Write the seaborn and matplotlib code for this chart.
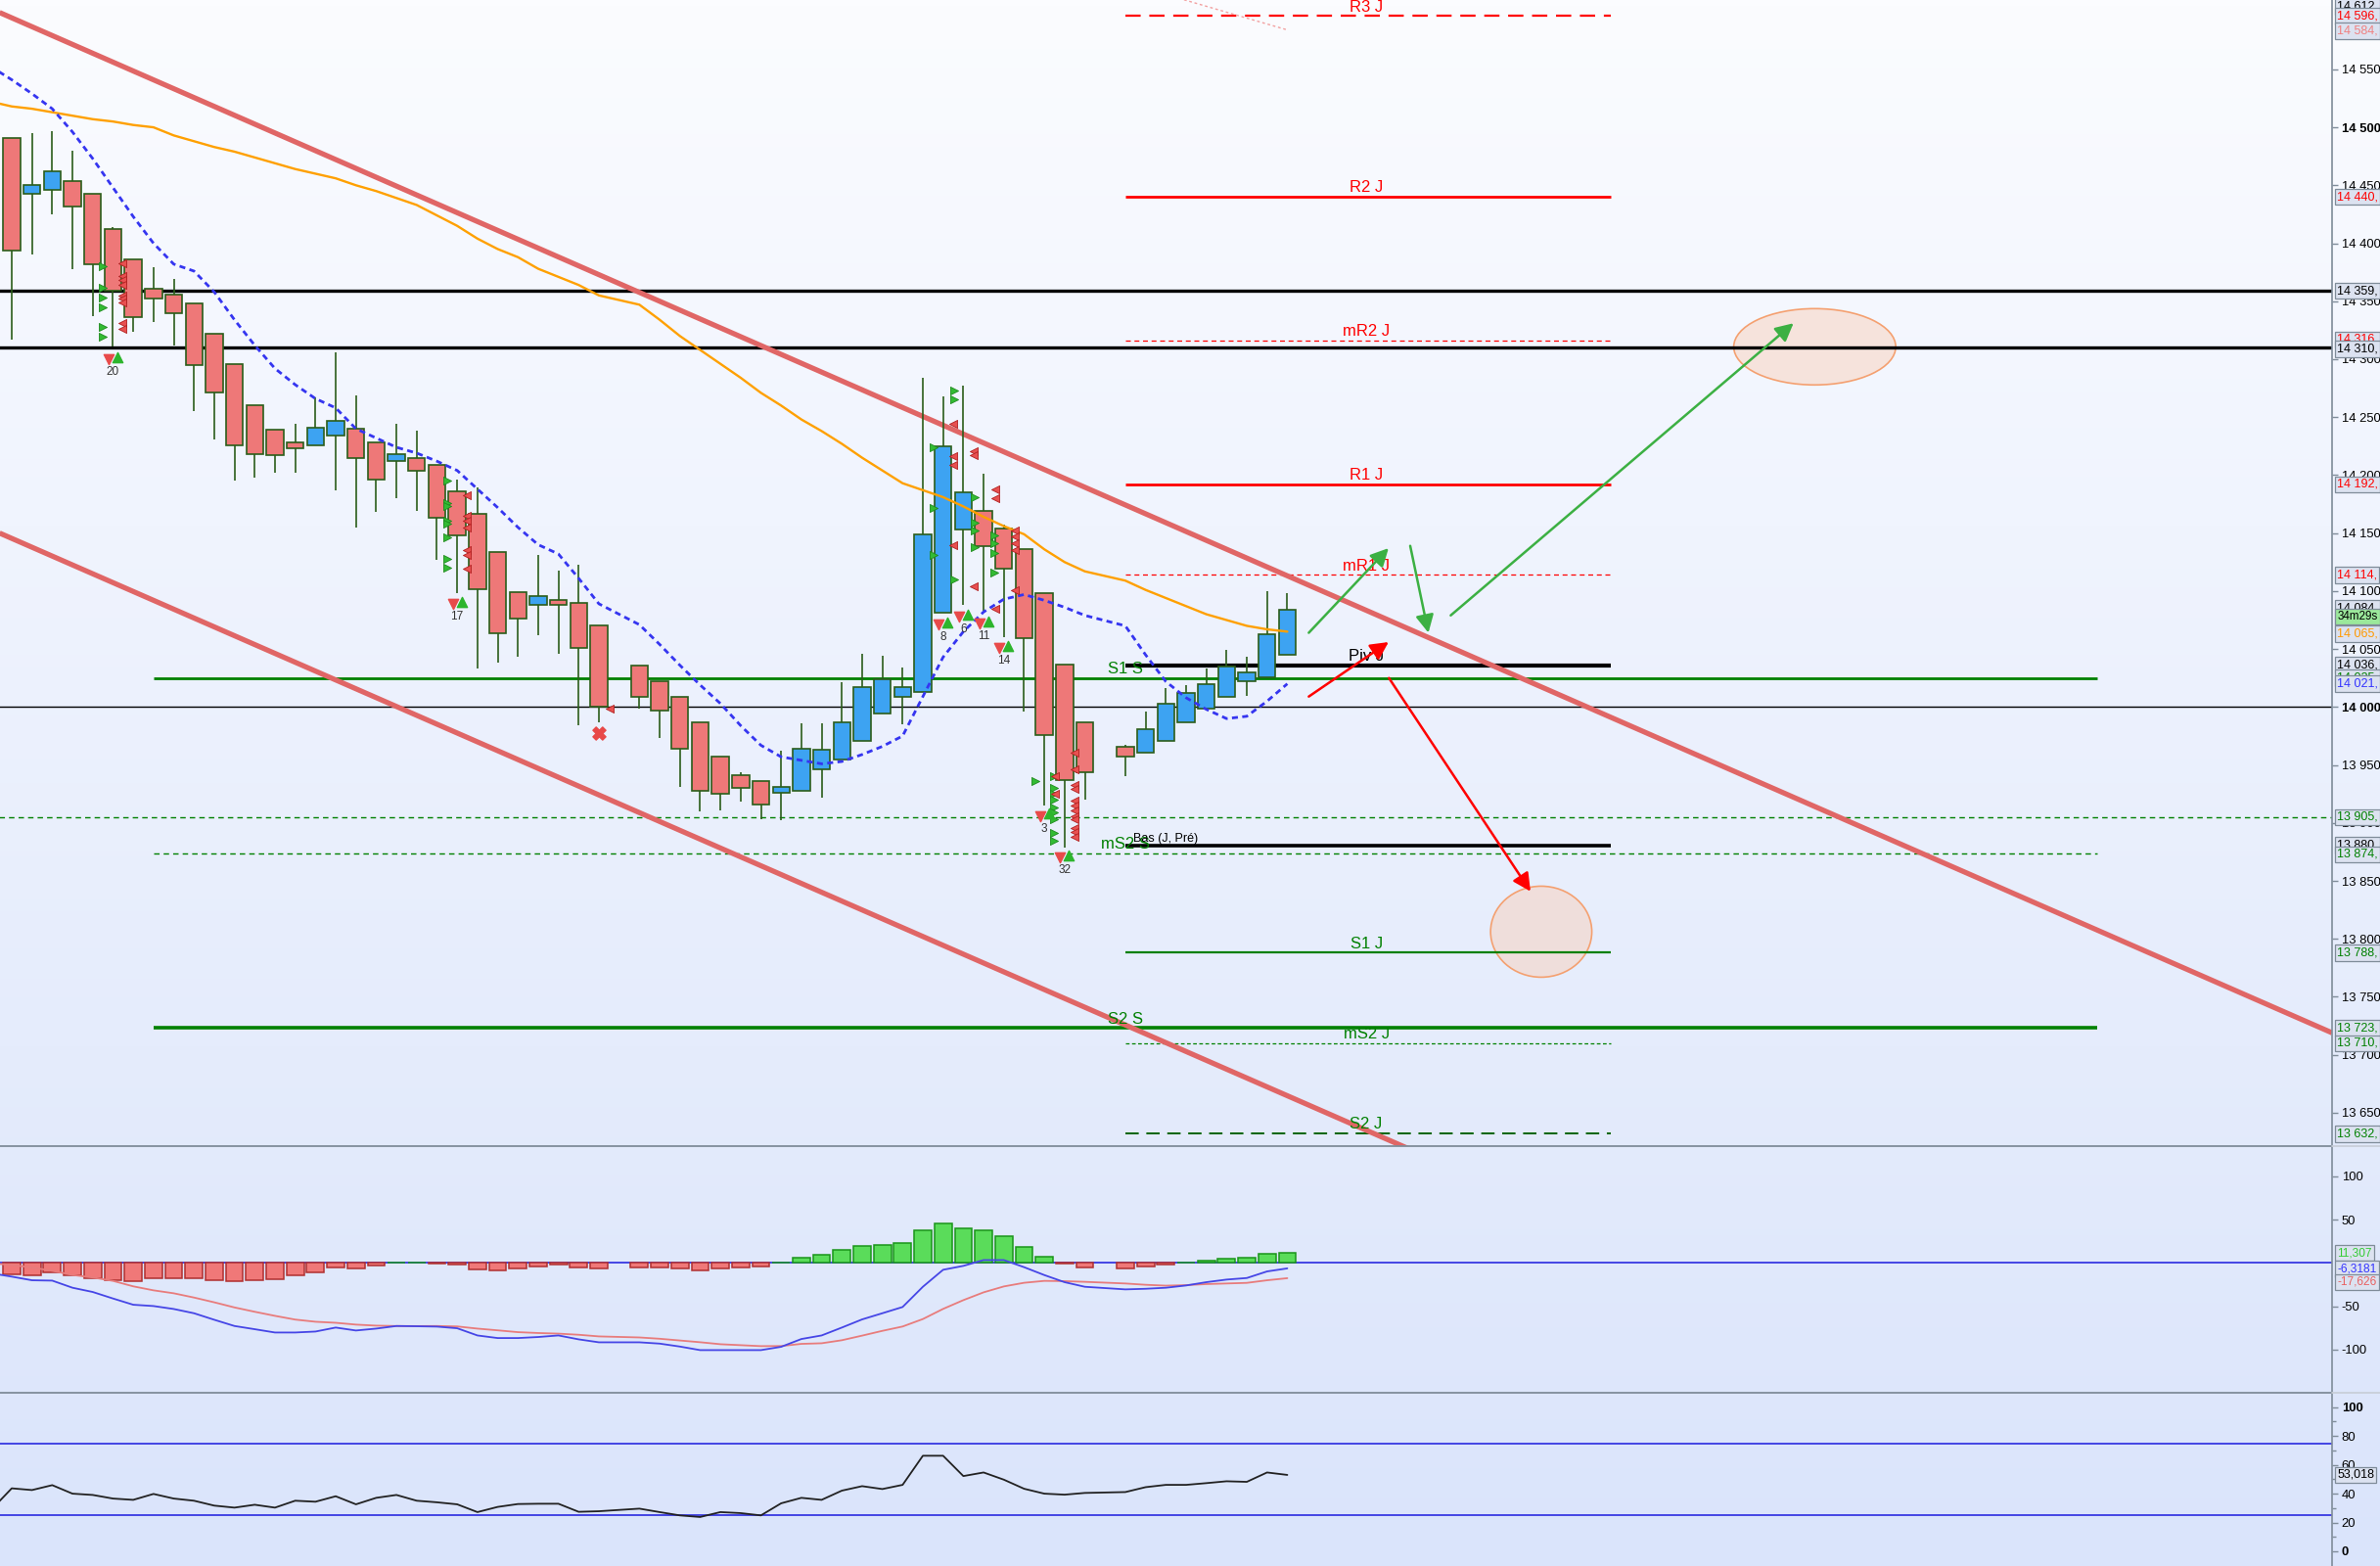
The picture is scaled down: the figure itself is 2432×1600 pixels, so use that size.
import numpy as np
import pandas as pd
import matplotlib
matplotlib.use("Agg")
import matplotlib.pyplot as plt
import matplotlib.transforms as mtrans
from matplotlib.colors import LinearSegmentedColormap
from matplotlib.lines import Line2D
from matplotlib.patches import Ellipse
import seaborn as sns

nan = np.nan

# ---------------- data ----------------
# first entry = bar just left of the visible window (only its indicator values show)
opens = [nan, 14491, 14443, 14446, 14454, 14443, 14412, 14386, 14361, 14356, 14348,
         14322, 14296, 14260, 14239, 14228, 14226, 14234, 14240, 14228, 14212,
         14215, 14209, 14186, 14167, 14134, 14099, 14088, 14092, 14090, 14070,
         nan, 14036, 14022, 14009, 13987, 13957, 13941, 13936, 13926, 13928,
         13946, 13955, 13971, 13994, 14009, 14013, 14081, 14153, 14169, 14154,
         14136, 14098, 14037, 13987, nan, 13966, 13961, 13971, 13987, 13999,
         14009, 14022, 14026, 14045]
highs = [nan, 14491, 14495, 14497, 14480, 14443, 14414, 14386, 14379, 14369, 14348,
         14322, 14296, 14260, 14239, 14244, 14267, 14306, 14269, 14228, 14244,
         14238, 14209, 14196, 14189, 14134, 14099, 14131, 14118, 14123, 14070,
         nan, 14036, 14022, 14009, 13987, 13957, 13944, 13936, 13962, 13986,
         13986, 14021, 14046, 14044, 14034, 14284, 14268, 14277, 14201, 14157,
         14136, 14098, 14037, 13987, nan, 13967, 13996, 14016, 14019, 14033,
         14049, 14043, 14100, 14098]
lows = [nan, 14317, 14390, 14425, 14378, 14337, 14311, 14324, 14332, 14312, 14255,
        14231, 14195, 14198, 14202, 14202, 14226, 14187, 14155, 14168, 14180,
        14169, 14127, 14098, 14033, 14038, 14043, 14062, 14046, 13984, 13987,
        nan, 13999, 13973, 13931, 13910, 13911, 13918, 13903, 13902, 13928,
        13922, 13955, 13971, 13994, 13985, 14013, 14081, 14088, 14083, 14060,
        13996, 13915, 13879, 13920, nan, 13940, 13961, 13971, 13987, 13999,
        14009, 14010, 14026, 14045]
closes = [nan, 14394, 14450, 14462, 14432, 14382, 14359, 14336, 14352, 14340, 14295,
          14271, 14226, 14218, 14217, 14223, 14241, 14247, 14215, 14196, 14218,
          14204, 14163, 14148, 14102, 14064, 14076, 14096, 14088, 14051, 14000,
          nan, 14009, 13997, 13964, 13928, 13925, 13930, 13916, 13931, 13964,
          13963, 13987, 14017, 14024, 14017, 14149, 14225, 14185, 14139, 14119,
          14059, 13976, 13937, 13944, nan, 13957, 13981, 14003, 14012, 14020,
          14035, 14030, 14063, 14084]
ma_blue = [14552, 14541, 14529, 14516, 14496, 14473, 14448, 14423, 14400, 14382, 14376,
           14358, 14334, 14312, 14292, 14278, 14266, 14258, 14240, 14232, 14224,
           14219, 14212, 14204, 14188, 14172, 14155, 14140, 14132, 14111, 14089,
           nan, 14071, 14054, 14036, 14019, 14003, 13984, 13967, 13957, 13954,
           13951, 13953, 13959, 13966, 13975, 14009, 14043, 14065, 14082, 14093,
           14097, 14092, 14086, 14079, nan, 14070, 14045, 14022, 14008, 13998,
           13990, 13992, 14005, 14020]
ma_orange = [14522, 14518, 14516, 14513, 14510, 14507, 14505, 14502, 14500, 14493, 14488,
             14483, 14479, 14474, 14469, 14464, 14460, 14456, 14450, 14445, 14439,
             14433, 14424, 14415, 14404, 14395, 14388, 14378, 14371, 14364, 14355,
             nan, 14347, 14334, 14320, 14308, 14296, 14284, 14271, 14260, 14248,
             14238, 14227, 14215, 14204, 14193, 14187, 14181, 14173, 14164, 14156,
             14149, 14136, 14125, 14117, nan, 14109, 14101, 14094, 14087, 14080,
             14075, 14070, 14067, 14065]
macd_line = [-12.0, -15.8, -20.0, -20.4, -28.6, -33.5, -41.0, -48.2, -49.7, -53.1, -58.0,
             -65.5, -72.7, -76.4, -80.2, -80.2, -79.1, -74.5, -77.9, -75.7, -72.7,
             -73.0, -73.4, -75.3, -83.6, -86.6, -86.6, -85.4, -83.6, -88.1, -91.5,
             nan, -91.5, -93.0, -96.4, -100.5, -100.5, -100.5, -100.5, -96.7, -87.7,
             -83.6, -74.5, -65.1, -58.0, -50.8, -27.5, -7.9, -3.4, 3.3, 3.3,
             -4.9, -14.0, -22.2, -27.5, nan, -30.5, -29.8, -28.6, -26.0, -22.2,
             -19.2, -17.4, -9.8, -6.3]
macd_signal = [-0.5, -2.3, -5.3, -9.1, -13.9, -16.8, -20.7, -27.0, -31.6, -35.0, -39.9,
               -45.4, -51.3, -56.3, -61.0, -65.3, -67.8, -69.0, -71.1, -72.3, -72.7,
               -72.8, -72.7, -73.2, -75.7, -77.7, -79.8, -80.8, -81.5, -82.8, -84.7,
               nan, -85.9, -87.4, -89.4, -91.4, -93.7, -94.8, -95.9, -95.8, -93.3,
               -92.6, -89.1, -83.8, -78.3, -73.3, -64.7, -53.0, -42.9, -33.9, -27.1,
               -22.9, -20.7, -21.0, -21.8, nan, -23.7, -25.2, -26.2, -25.6, -24.4,
               -23.7, -23.0, -20.0, -17.6]
macd_hist = [nan, -13.5, -14.7, -11.3, -14.7, -17.4, -20.3, -21.4, -18.1, -18.1, -18.1,
             -20.3, -21.4, -20.3, -19.2, -14.7, -11.3, -5.6, -6.8, -3.4, 0.0,
             0.0, -1.1, -2.3, -7.9, -9.0, -6.8, -4.5, -2.3, -5.6, -6.8,
             nan, -5.6, -5.6, -6.8, -9.1, -6.8, -5.7, -4.6, 0.0, 5.6,
             9.0, 14.6, 19.2, 20.3, 22.5, 37.2, 45.1, 39.5, 37.2, 30.4,
             18.0, 6.7, -1.2, -5.7, nan, -6.8, -4.6, -2.3, 0.0, 2.2,
             4.5, 5.6, 10.1, 11.3]
rsi = [29.0, 43.7, 42.5, 45.9, 40.0, 39.1, 36.6, 35.7, 39.8, 36.6, 35.1,
       31.7, 30.3, 32.3, 30.3, 35.1, 34.4, 38.2, 32.6, 37.1, 39.1,
       35.1, 34.0, 32.6, 27.2, 30.8, 32.8, 33.0, 33.0, 27.4, 27.8,
       nan, 29.6, 27.2, 24.9, 23.8, 27.2, 26.5, 24.9, 33.3, 37.1,
       35.7, 42.1, 45.2, 43.2, 46.1, 66.3, 66.3, 52.2, 54.7, 49.7,
       43.4, 40.0, 39.3, 40.5, nan, 41.1, 44.5, 46.1, 46.1, 47.3,
       48.6, 48.2, 54.7, 53.0]

# pivot levels (daily)
day_names = ['R3 J', 'R2 J', 'mR2 J', 'R1 J', 'mR1 J', 'Piv J', 'S1 J', 'mS2 J', 'S2 J']
day_values = [14596, 14440, 14316, 14192, 14114, 14036, 13788, 13710, 13632]
# weekly levels
week_names = ['S1 S', 'S2 S', 'mS2 S']
week_values = [14025, 13723, 13874]
# other horizontal levels
black_levels = [14359, 14310]
round_level = 14000
dash_level = 13905
bas_name = 'Bas (J, Pré)'
bas_value = 13880

# channel lines (index, price)
chan_x = [-0.6, 114.6]
chan_upper = [14599, 13719]
chan_lower = [14150, 13271]
faint_x = [57.9, 63.0]
faint_y = [14610, 14584]

# signal counters
sig_idx = [5, 22, 46, 47, 48, 49, 51, 52]
sig_text = ['20', '17', '8', '6', '11', '14', '3', '32']
sig_price = [14300, 14089, 14071, 14078, 14072, 14051, 13906, 13870]

green_tri_x = [4.49]*6 + [21.52]*8 + [45.53]*3 + [46.54]*3 + [47.56]*4 + [48.53]*4 + [50.57] + [51.49]*9
green_tri_y = [14380, 14362, 14353, 14345, 14328, 14319,
               14195, 14176, 14173, 14161, 14158, 14146, 14128, 14120,
               14224, 14172, 14131, 14273, 14265, 14110,
               14181, 14159, 14152, 14138, 14148, 14141, 14133, 14116, 13936,
               13940, 13930, 13925, 13920, 13913, 13909, 13903, 13891, 13885]
red_tri_x = [5.48]*9 + [22.49]*7 + [29.52] + [46.5]*4 + [47.51]*3 + [48.56]*3 + [49.53]*5 + [51.54]*2 + [52.5]*12
red_tri_y = [14383, 14372, 14368, 14364, 14355, 14352, 14349, 14331, 14326,
             14183, 14165, 14161, 14155, 14135, 14131, 14119,
             13999,
             14244, 14216, 14209, 14140, 14221, 14217, 14104, 14188, 14180, 14085,
             14152, 14147, 14141, 14135, 14101, 13940, 13925,
             13961, 13946, 13933, 13929, 13919, 13915, 13911, 13906, 13903, 13896, 13892, 13888]
cross_x = [28.98]
cross_y = [13977.5]

# scenario arrows (start idx, start price, end idx, end price)
green_arrows = [(64.06, 14064, 68.0, 14137), (69.07, 14139, 69.97, 14064), (71.07, 14079, 88.0, 14331)]
red_arrows = [(64.06, 14009, 68.0, 14056), (68.02, 14025, 75.01, 13841)]
target_zones = [(89.05, 14310.7, 8.0, 65.8), (75.54, 13806.2, 5.0, 78.5)]

# right-scale value boxes (visible part of each label)
main_boxes = [('14 612,', 14604.5, 'black'), ('14 596,', 14596, '#FF0000'), ('14 584,', 14583, '#F08080'),
              ('14 440,', 14440, '#FF0000'), ('14 359,', 14359, 'black'), ('14 316,', 14317, '#FF0000'),
              ('14 310,', 14309, 'black'), ('14 192,', 14192, '#FF0000'), ('14 114,', 14114, '#FF0000'),
              ('14 084,', 14085, 'black'), ('14 074,', 14071, 'black'), ('14 065,', 14063, '#FF9900'),
              ('14 036,', 14036, 'black'), ('14 025,', 14025, '#008000'), ('14 021,', 14020, '#3333FF'),
              ('13 905,', 13905, '#008000'), ('13 880,', 13881, 'black'), ('13 874,', 13873, '#008000'),
              ('13 788,', 13788, '#008000'), ('13 723,', 13723, '#008000'), ('13 710,', 13710, '#008000'),
              ('13 632,', 13632, '#008000')]
timer_text = '34m29s'
timer_price = 14078
macd_boxes = [('11,307', 11.3, '#33CC33'), ('-6,3181', -7.0, '#3333FF'), ('-17,626', -22.0, '#E86060')]
rsi_box = ('53,018', 53.0, 'black')

# ---------------- figure ----------------
sns.set_theme(style="white")
plt.rcParams['font.family'] = ['Liberation Sans', 'DejaVu Sans']
FS = 9.4
FB = 9.0

fig = plt.figure(figsize=(24.32, 16), dpi=100)
W = 2383 / 2432
bg = fig.add_axes([0, 0, 1, 1], zorder=-10)
cmap = LinearSegmentedColormap.from_list('bg', ['#FBFCFF', '#F0F4FE', '#E5ECFC', '#DAE4FB'])
bg.imshow(np.linspace(0, 1, 256).reshape(-1, 1), aspect='auto', cmap=cmap,
          extent=[0, 1, 0, 1], origin='upper')
bg.set_axis_off()

h_main = 1171.3 / 1600
h_macd = (1423.3 - 1171.3) / 1600
ax = fig.add_axes([0, 1 - h_main, W, h_main])
axm = fig.add_axes([0, 1 - h_main - h_macd, W, h_macd])
axr = fig.add_axes([0, 0, W, 1 - h_main - h_macd])

for a in (ax, axm, axr):
    a.set_facecolor('none')
    for s in ('top', 'left', 'bottom'):
        a.spines[s].set_visible(False)
    a.spines['right'].set_color('#7F8C99')
    a.spines['right'].set_linewidth(1.2)
    a.set_xlim(-0.58, 114.6)
    a.set_xticks([])
    a.yaxis.tick_right()
    a.tick_params(axis='y', left=False, right=True, labelleft=False, labelright=True,
                  direction='out', length=4, width=1, color='#7F8C99', pad=3,
                  labelsize=FS, labelcolor='black')

for yy in (1 - h_main, 1 - h_main - h_macd):
    fig.add_artist(Line2D([0, W], [yy, yy], transform=fig.transFigure, color='#7F8C99', lw=1.3))
    fig.add_artist(Line2D([W, 1], [yy, yy], transform=fig.transFigure, color='#C9CFD9', lw=1.3))

ax.set_ylim(13621.0, 14609.8)
axm.set_ylim(-150, 134.3)
axr.set_ylim(-10.2, 109.8)

idx = np.arange(len(opens)) - 1
base = pd.DataFrame(dict(idx=idx, open=opens, high=highs, low=lows, close=closes,
                         ma_blue=ma_blue, ma_orange=ma_orange, macd=macd_line,
                         signal=macd_signal, hist=macd_hist, rsi=rsi))
df = base.dropna(subset=['open', 'high', 'low', 'close'])
dl = base.dropna(subset=['ma_blue', 'ma_orange', 'macd', 'signal', 'rsi'])
dh = base.dropna(subset=['hist'])

# horizontal levels
ax.hlines(black_levels, -1, 120, colors='black', lw=2.4, zorder=2)
ax.hlines(round_level, -1, 120, colors='black', lw=1.0, zorder=2)
ax.hlines(dash_level, -1, 120, colors='#008000', lw=1.0, linestyles=(0, (4, 3)), zorder=2)
day_styles = {'R3 J': ('#FF0000', 1.6, (0, (7, 4))), 'R2 J': ('#FF0000', 2.0, '-'),
              'mR2 J': ('#FF0000', 0.9, (0, (4, 3))), 'R1 J': ('#FF0000', 2.0, '-'),
              'mR1 J': ('#FF0000', 0.9, (0, (4, 3))), 'Piv J': ('black', 3.0, '-'),
              'S1 J': ('#008000', 1.6, '-'), 'mS2 J': ('#008000', 0.9, (0, (3, 2))),
              'S2 J': ('#006400', 1.4, (0, (7, 4)))}
for name, val in zip(day_names, day_values):
    c, lw, ls = day_styles[name]
    ax.hlines(val, 55, 79, colors=c, lw=lw, linestyles=ls, zorder=2)
    tc = 'black' if name == 'Piv J' else c
    if tc == '#006400':
        tc = '#008000'
    ax.text(66.9, val + 1.5, name, ha='center', va='bottom', fontsize=12, color=tc, zorder=7)
week_styles = {'S1 S': (2.0, '-'), 'S2 S': (2.6, '-'), 'mS2 S': (1.0, (0, (4, 3)))}
for name, val in zip(week_names, week_values):
    lw, ls = week_styles[name]
    ax.hlines(val, 7, 103, colors='#008000', lw=lw, linestyles=ls, zorder=2)
    ax.text(55, val + 1.5, name, ha='center', va='bottom', fontsize=12, color='#008000', zorder=7)
ax.hlines(bas_value, 55, 79, colors='black', lw=2.6, zorder=2)
ax.text(55.4, bas_value + 1.5, bas_name, ha='left', va='bottom', fontsize=9, color='black', zorder=7)

# target zones
for cx, cy, w, h in target_zones:
    ax.add_patch(Ellipse((cx, cy), w, h, facecolor=(0.98, 0.80, 0.70, 0.45),
                         edgecolor='#F4A070', lw=1.2, zorder=1.5))

# channel
ax.plot(chan_x, chan_upper, color='#E06666', lw=3.8, zorder=2.5, solid_capstyle='butt')
ax.plot(chan_x, chan_lower, color='#E06666', lw=3.8, zorder=2.5, solid_capstyle='butt')
ax.plot(faint_x, faint_y, color='#F2A0A0', lw=1.0, ls=(0, (2, 2)), zorder=2)

# candles
up = df['close'] >= df['open']
ax.vlines(df['idx'], df['low'], df['high'], color='#2B5D1A', lw=1.2, zorder=3)
ax.bar(df['idx'][up], (df['close'] - df['open'])[up], bottom=df['open'][up], width=0.84,
       color='#3DA3F2', edgecolor='#2B5D1A', linewidth=1.2, zorder=4)
ax.bar(df['idx'][~up], (df['open'] - df['close'])[~up], bottom=df['close'][~up], width=0.84,
       color='#EE7878', edgecolor='#2B5D1A', linewidth=1.2, zorder=4)

# moving averages
sns.lineplot(data=dl, x='idx', y='ma_orange', ax=ax, color='#FFA000', lw=1.7, zorder=5)
sns.lineplot(data=dl, x='idx', y='ma_blue', ax=ax, color='#3535F0', lw=2.0,
             linestyle=(0, (2.2, 1.6)), zorder=5)

# signal markers
ax.scatter(green_tri_x, green_tri_y, marker='>', s=34, color='#33BB33', edgecolor='#1E8A1E', lw=0.6, zorder=6)
ax.scatter(red_tri_x, red_tri_y, marker='<', s=34, color='#E85050', edgecolor='#B02020', lw=0.6, zorder=6)
ax.scatter(cross_x, cross_y, marker='X', s=90, color='#E84848', zorder=6)
for i, t, p in zip(sig_idx, sig_text, sig_price):
    ax.scatter([i - 0.22], [p], marker='v', s=55, color='#E84A4A', zorder=6)
    ax.scatter([i + 0.22], [p + 2], marker='^', s=55, color='#2DB52D', zorder=6)
    ax.text(i, p - 11, t, ha='center', va='center', fontsize=8.5, color='#333333', zorder=6)

# scenario arrows
for x0, y0, x1, y1 in green_arrows:
    ax.annotate('', xy=(x1, y1), xytext=(x0, y0),
                arrowprops=dict(arrowstyle='-|>,head_length=0.55,head_width=0.28', color='#3CB043',
                                lw=1.8, shrinkA=0, shrinkB=0, mutation_scale=20), zorder=8)
for x0, y0, x1, y1 in red_arrows:
    ax.annotate('', xy=(x1, y1), xytext=(x0, y0),
                arrowprops=dict(arrowstyle='-|>,head_length=0.55,head_width=0.28', color='#FF0000',
                                lw=1.8, shrinkA=0, shrinkB=0, mutation_scale=20), zorder=8)

# right scale main
ticks = list(range(13650, 14551, 50))
ax.set_yticks(ticks)
ax.set_yticklabels([f"{v // 1000} {v % 1000:03d}" for v in ticks])
for lab, v in zip(ax.get_yticklabels(), ticks):
    if v in (14000, 14500):
        lab.set_fontweight('bold')
ax.set_xlabel('')
ax.set_ylabel('')

box_kw = dict(boxstyle='square,pad=0.18', fc='#DCE2F0', ec='#7F8C99', lw=0.9)
tm = mtrans.blended_transform_factory(ax.transAxes, ax.transData)
for txt, v, c in main_boxes:
    ax.text(1.0022, v, txt, transform=tm, ha='left', va='center', fontsize=FB, color=c,
            bbox=box_kw, clip_on=False, zorder=10)
ax.text(1.0022, timer_price, timer_text, transform=tm, ha='left', va='center', fontsize=8.4,
        color='black', bbox=dict(boxstyle='square,pad=0.18', fc='#9BE89B', ec='#7F8C99', lw=0.9),
        clip_on=False, zorder=11)

# MACD panel
axm.axhline(0, color='#2A2AE0', lw=1.2, zorder=2)
pos = dh['hist'] >= 0
axm.bar(dh['idx'][pos], dh['hist'][pos], width=0.86, color='#5ADC5A', edgecolor='#1A951A', linewidth=1.1, zorder=3)
axm.bar(dh['idx'][~pos], dh['hist'][~pos], width=0.86, color='#F07878', edgecolor='#B03030', linewidth=1.1, zorder=3)
sns.lineplot(data=dl, x='idx', y='signal', ax=axm, color='#E87C7C', lw=1.3, zorder=4)
sns.lineplot(data=dl, x='idx', y='macd', ax=axm, color='#4646E6', lw=1.3, zorder=5)
axm.set_yticks([100, 50, -50, -100])
axm.set_yticklabels(['100', '50', '-50', '-100'])
axm.set_xlabel('')
axm.set_ylabel('')
tmm = mtrans.blended_transform_factory(axm.transAxes, axm.transData)
for txt, v, c in macd_boxes:
    axm.text(1.0022, v, txt, transform=tmm, ha='left', va='center', fontsize=8.6, color=c,
             bbox=box_kw, clip_on=False, zorder=10)

# RSI panel
axr.axhline(75, color='#2A2AE0', lw=1.2)
axr.axhline(25, color='#2A2AE0', lw=1.2)
sns.lineplot(data=dl, x='idx', y='rsi', ax=axr, color='#222222', lw=1.3, zorder=4)
axr.set_yticks([0, 20, 40, 60, 80, 100])
axr.set_yticklabels(['0', '20', '40', '60', '80', '100'])
axr.set_yticks([10, 30, 50, 70, 90], minor=True)
axr.tick_params(axis='y', which='minor', right=True, left=False, length=3, width=1, color='#7F8C99')
for lab, v in zip(axr.get_yticklabels(), [0, 20, 40, 60, 80, 100]):
    if v in (0, 100):
        lab.set_fontweight('bold')
axr.set_xlabel('')
axr.set_ylabel('')
tmr = mtrans.blended_transform_factory(axr.transAxes, axr.transData)
axr.text(1.0022, rsi_box[1], rsi_box[0], transform=tmr, ha='left', va='center', fontsize=FB,
         color=rsi_box[2], bbox=box_kw, clip_on=False, zorder=10)

for a in (ax, axm, axr):
    a.set_xlim(-0.58, 114.6)

fig.savefig('out.png', dpi=100)
